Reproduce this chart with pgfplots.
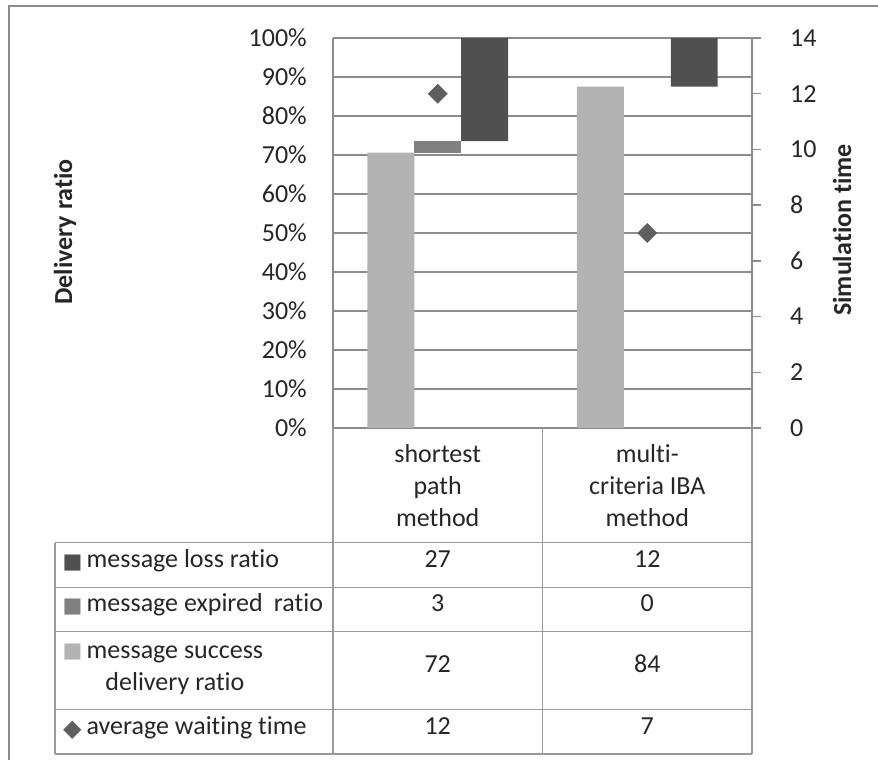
\documentclass[border=0pt]{standalone}
\usepackage{pgfplots}
\pgfplotsset{compat=1.18}
\usepackage{fontspec}
\setmainfont{Carlito}[Ligatures={NoCommon,NoContextual}]
\newfontfamily\sym{DejaVu Sans}
\definecolor{cLight}{HTML}{B3B3B3}
\definecolor{cMid}{HTML}{808080}
\definecolor{cDark}{HTML}{505050}
\definecolor{cDia}{HTML}{5F5F5F}
\definecolor{cGrid}{HTML}{8C8C8C}
\definecolor{cLine}{HTML}{9A9A9A}
\definecolor{cText}{HTML}{262626}
\newcommand\cf{\fontsize{26}{32}\selectfont}
\begin{document}
\begin{tikzpicture}[x=1pt,y=1pt]
\useasboundingbox (0,0) rectangle (878,760);
% outer frame (right and bottom edges lie outside the picture)
\draw[cGrid, line width=2pt] (9,-10) -- (9,754) -- (900,754);

% left axis: percentages, 100% stacked columns shown side by side
\begin{axis}[
  at={(333pt,332pt)}, anchor=south west,
  scale only axis, width=419pt, height=390pt,
  xmin=-0.5, xmax=1.5, ymin=0, ymax=100,
  axis x line=none, axis y line*=left,
  axis line style={cGrid, line width=1.3pt},
  ymajorgrids, grid style={cGrid, line width=1.3pt},
  ytick={0,10,...,100},
  yticklabels={0\%,10\%,20\%,30\%,40\%,50\%,60\%,70\%,80\%,90\%,100\%},
  major tick length=0pt,
  yticklabel style={font=\cf, text=cText, inner sep=0pt, anchor=east, xshift=-26pt},
  ybar stacked, bar width=0.2243,
]
% x positions: cat1 success, expired, loss; cat2 success, expired, loss
\addplot[draw=none, fill=none] coordinates {(-0.2243,0) (0,70.59) (0.2243,73.53) (0.7757,0) (1,87.5) (1.2243,87.5)};
\addplot[draw=none, fill=cLight] coordinates {(-0.2243,70.59) (0,0) (0.2243,0) (0.7757,87.5) (1,0) (1.2243,0)};
\addplot[draw=none, fill=cMid] coordinates {(-0.2243,0) (0,2.94) (0.2243,0) (0.7757,0) (1,0) (1.2243,0)};
\addplot[draw=none, fill=cDark] coordinates {(-0.2243,0) (0,0) (0.2243,26.47) (0.7757,0) (1,0) (1.2243,12.5)};
\end{axis}

% right axis: average waiting time
\begin{axis}[
  at={(333pt,332pt)}, anchor=south west,
  scale only axis, width=419pt, height=390pt,
  xmin=-0.5, xmax=1.5, ymin=0, ymax=14,
  axis x line=none, axis y line*=right,
  axis line style={cGrid, line width=1.3pt},
  ytick={0,2,...,14},
  tick align=outside, major tick length=9pt,
  ytick style={cGrid, line width=1.3pt},
  yticklabel style={font=\cf, text=cText, inner sep=0pt, anchor=west, xshift=29pt},
  /pgf/number format/assume math mode=true,
]
\addplot[only marks, color=cDia, mark=square*, mark size=6.8pt,
  mark options={rotate=45, fill=cDia, draw=none}] coordinates {(0,12) (1,7)};
\end{axis}

% axis titles
\node[rotate=90, font=\cf\bfseries, text=cText] at (65,528) {Delivery ratio};
\node[rotate=90, font=\cf\bfseries, text=cText] at (842,530) {Simulation time};

% data table grid
\begin{scope}[cLine, line width=1.5pt]
\draw (333,332) -- (333,6);
\draw (542.5,332) -- (542.5,6);
\draw (752,332) -- (752,6);
\draw (55,217.3) -- (55,6);
\draw (55,217.3) -- (752,217.3);
\draw (55,172.7) -- (752,172.7);
\draw (55,128.3) -- (752,128.3);
\draw (55,50.7) -- (752,50.7);
\draw (55,6) -- (752,6);
\end{scope}

\begin{scope}[font=\cf, text=cText]
% header
\node[align=center] at (437.7,274.7) {shortest\\path\\method};
\node[align=center] at (647.3,274.7) {multi-\\criteria IBA\\method};
% legend column
\node[anchor=west, inner sep=0pt, text height=0.75em, text depth=0.25em] at (86.5,195) {message loss ratio};
\node[anchor=west, inner sep=0pt, text height=0.75em, text depth=0.25em] at (86.5,150.5) {message expired\hspace{0.2em} ratio};
\node[anchor=west, inner sep=0pt, align=center] at (86.5,89.5) {message success\\delivery ratio};
\node[anchor=west, inner sep=0pt, text height=0.75em, text depth=0.25em] at (86.5,28.3) {average waiting time};
% values
\node[text height=0.75em, text depth=0.25em] at (437.7,195) {27};
\node[text height=0.75em, text depth=0.25em] at (647.3,195) {12};
\node[text height=0.75em, text depth=0.25em] at (437.7,150.5) {3};
\node[text height=0.75em, text depth=0.25em] at (647.3,150.5) {0};
\node[text height=0.75em, text depth=0.25em] at (437.7,89.5) {72};
\node[text height=0.75em, text depth=0.25em] at (647.3,89.5) {84};
\node[text height=0.75em, text depth=0.25em] at (437.7,28.3) {12};
\node[text height=0.75em, text depth=0.25em] at (647.3,28.3) {7};
\end{scope}
% legend keys
\node[text=cDark, inner sep=0pt, font=\sym\fontsize{21}{21}\selectfont] at (72.5,197) {■};
\node[text=cMid, inner sep=0pt, font=\sym\fontsize{21}{21}\selectfont] at (72.5,152.7) {■};
\node[text=cLight, inner sep=0pt, font=\sym\fontsize{21}{21}\selectfont] at (72.5,108) {■};
\node[text=cDia, inner sep=0pt, font=\sym\fontsize{24}{24}\selectfont] at (72.3,30) {◆};
\end{tikzpicture}
\end{document}
